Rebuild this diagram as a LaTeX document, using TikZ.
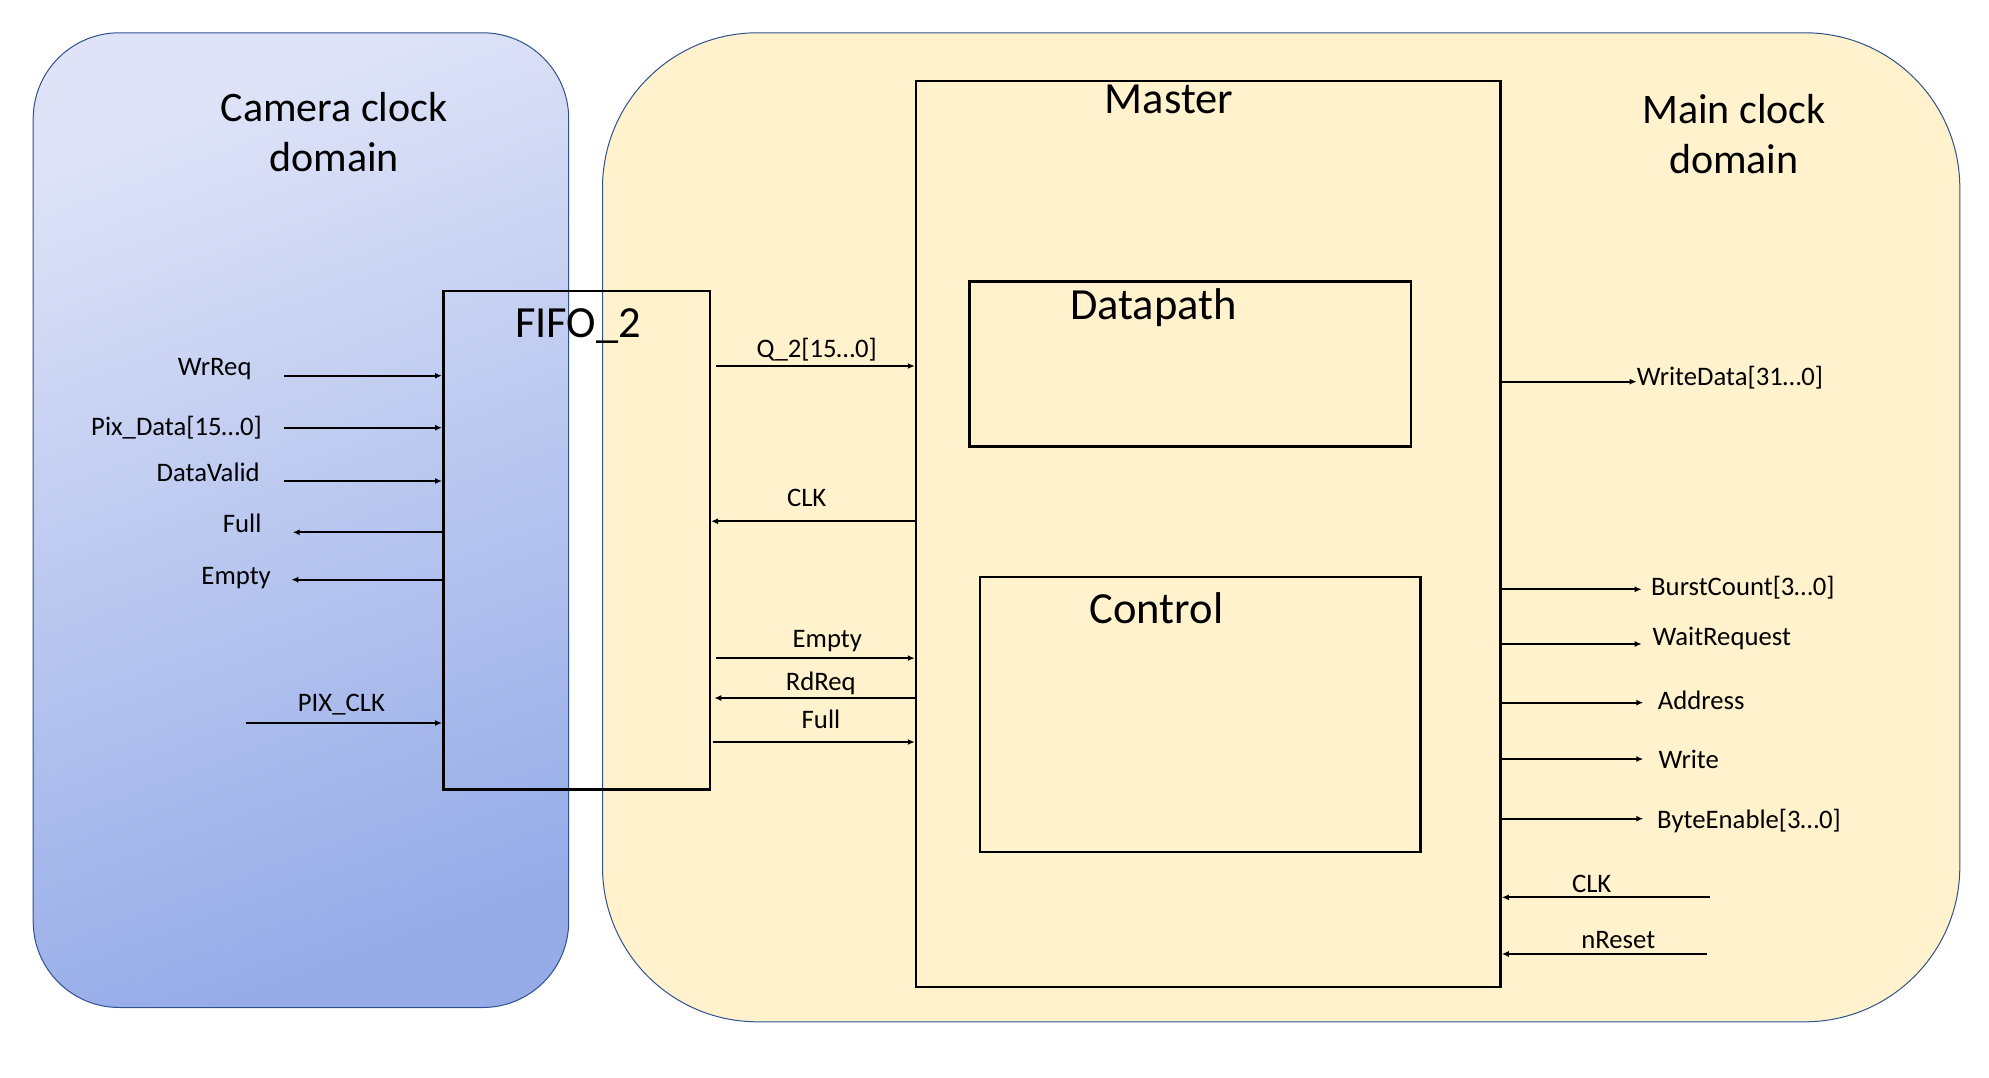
\documentclass[tikz,border=0pt]{standalone}
\usepackage{fontspec}
\setmainfont{Carlito}
\usetikzlibrary{arrows.meta}
\definecolor{camtop}{RGB}{222,227,247}
\definecolor{cambot}{RGB}{150,172,232}
\definecolor{mainfill}{RGB}{255,242,204}
\definecolor{domline}{RGB}{47,82,143}

\begin{document}
\begin{tikzpicture}[x=1pt,y=-1pt,
	clkdom/.style={draw=domline,line width=1pt,inner sep=0,anchor=north west},
	blk/.style={draw,line width=2.5pt,inner sep=0,anchor=north west},
	sig/.style={line width=2pt,-{Latex[length=7pt,width=6pt]}},
	sigtxt/.style={inner sep=0,font=\fontsize{26.7}{32}\selectfont},
	blktxt/.style={inner sep=0,anchor=base,font=\fontsize{44.5}{53}\selectfont},
	domtxt/.style={inner sep=0,anchor=base,align=center,font=\fontsize{42}{50}\selectfont}]
	\useasboundingbox (0,0) rectangle (1989,1078);
	% clock domains
	\node[clkdom,rounded corners=86pt,top color=camtop,bottom color=cambot,shading angle=20,
		minimum width=535.5,minimum height=974.7] (cam) at (32.7,32.3) {};
	\node[clkdom,rounded corners=155pt,fill=mainfill,
		minimum width=1357.3,minimum height=989] (main) at (602,32.3) {};
	\node[domtxt] (camtitle) at (334.2,171.7) {Camera clock\\domain};
	\node[domtxt] (maintitle) at (1733.9,173.3) {Main clock\\domain};
	% blocks
	\node[blk,minimum width=266.5,minimum height=498.5] (fifo) at (442,289.5) {};
	\node[blk,minimum width=584.5,minimum height=905.7] (master) at (914.8,80) {};
	\node[blk,minimum width=441.4,minimum height=165] (dpath) at (968.2,280.3) {};
	\node[blk,minimum width=440.4,minimum height=275] (ctrl) at (978.6,575.7) {};
	\node[blktxt] (fifotitle) at (578,337.6) {FIFO\_2};
	\node[blktxt] (mastertitle) at (1169,113.3) {Master};
	\node[blktxt] (dpathtitle) at (1153.5,319.3) {Datapath};
	\node[blktxt] (ctrltitle) at (1156.5,623.3) {Control};

	% camera side of the FIFO
	\coordinate (wrreq) at (284,375.7);
	\coordinate (pixdata) at (284,427.7);
	\coordinate (dvalid) at (284,481);
	\coordinate (fullc) at (292.7,532.3);
	\coordinate (emptyc) at (291.3,579.7);
	\coordinate (pixclk) at (245.6,723);
	\draw[sig] (wrreq) -- (wrreq -| fifo.west);
	\draw[sig] (pixdata) -- (pixdata -| fifo.west);
	\draw[sig] (dvalid) -- (dvalid -| fifo.west);
	\draw[sig] (fullc -| fifo.west) -- (fullc);
	\draw[sig] (emptyc -| fifo.west) -- (emptyc);
	\draw[sig] (pixclk) -- (pixclk -| fifo.west);
	\node[sigtxt,anchor=base east] (wrreqtxt) at (251.7,375) {WrReq};
	\node[sigtxt,anchor=base east] (pixdatatxt) at (262,435) {Pix\_Data[15…0]};
	\node[sigtxt,anchor=base east] (dvalidtxt) at (260,481.7) {DataValid};
	\node[sigtxt,anchor=base east] (fullctxt) at (261.7,532.7) {Full};
	\node[sigtxt,anchor=base east] (emptyctxt) at (271,584.3) {Empty};
	\node[sigtxt,anchor=base] (pixclktxt) at (341.4,711.7) {PIX\_CLK};

	% FIFO <-> master
	\coordinate (qdata) at (716,366);
	\coordinate (clkf) at (709,521.2);
	\coordinate (emptym) at (716,658.1);
	\coordinate (rdreq) at (714.3,698);
	\coordinate (fullm) at (712.7,742);
	\draw[sig,line width=1.6pt] (qdata) -- (qdata -| master.west);
	\draw[sig] (clkf -| master.west) -- (clkf -| fifo.east);
	\draw[sig] (emptym) -- (emptym -| master.west);
	\draw[sig] (rdreq -| master.west) -- (rdreq);
	\draw[sig] (fullm) -- (fullm -| master.west);
	\node[sigtxt,anchor=base] (qdatatxt) at (816.7,357.2) {Q\_2[15…0]};
	\node[sigtxt,anchor=base] (clkftxt) at (806.7,506.6) {CLK};
	\node[sigtxt,anchor=base] (emptymtxt) at (827.3,647.6) {Empty};
	\node[sigtxt,anchor=base] (rdreqtxt) at (820.7,690.2) {RdReq};
	\node[sigtxt,anchor=base] (fullmtxt) at (821,728.8) {Full};

	% bus side of the master
	\coordinate (wdata) at (1636.6,381.7);
	\coordinate (burst) at (1641.7,589.3);
	\coordinate (waitreq) at (1641.7,644);
	\coordinate (addr) at (1643.3,702.7);
	\coordinate (wr) at (1643.3,759);
	\coordinate (byteen) at (1643.3,818.7);
	\coordinate (clkin) at (1710,897.3);
	\coordinate (nreset) at (1706.7,954);
	\draw[sig,line width=1.6pt] (wdata -| master.east) -- (wdata);
	\draw[sig] (burst -| master.east) -- (burst);
	\draw[sig] (waitreq -| master.east) -- (waitreq);
	\draw[sig] (addr -| master.east) -- (addr);
	\draw[sig,line width=1.5pt] (wr -| master.east) -- (wr);
	\draw[sig] (byteen -| master.east) -- (byteen);
	\draw[sig] (clkin) -- (clkin -| master.east);
	\draw[sig] (nreset) -- (nreset -| master.east);
	\node[sigtxt,anchor=base west] (wdatatxt) at (1636.6,385) {WriteData[31…0]};
	\node[sigtxt,anchor=base west] (bursttxt) at (1651,595) {BurstCount[3…0]};
	\node[sigtxt,anchor=base west] (waitreqtxt) at (1652.3,645) {WaitRequest};
	\node[sigtxt,anchor=base west] (addrtxt) at (1657.7,709.3) {Address};
	\node[sigtxt,anchor=base west] (wrtxt) at (1658.3,768.3) {Write};
	\node[sigtxt,anchor=base west] (byteentxt) at (1657,828.3) {ByteEnable[3…0]};
	\node[sigtxt,anchor=base] (clkintxt) at (1591.7,892.7) {CLK};
	\node[sigtxt,anchor=base] (nresettxt) at (1618.3,948.3) {nReset};
\end{tikzpicture}
\end{document}
